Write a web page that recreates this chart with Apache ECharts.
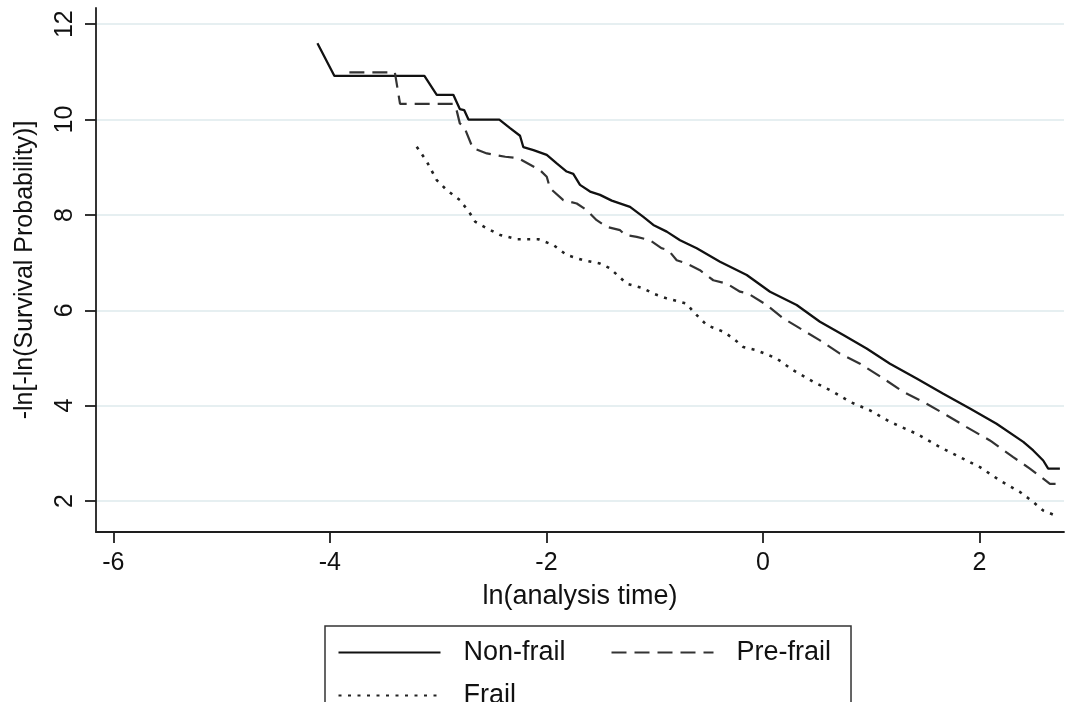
<!DOCTYPE html>
<html>
<head>
<meta charset="utf-8">
<script src="https://cdn.jsdelivr.net/npm/echarts@6/dist/echarts.min.js"></script>
<style>
html,body{margin:0;padding:0;background:#fff;}
#chart{width:1067px;height:702px;}
</style>
</head>
<body>
<div id="chart"></div>
<script>
// ---- data ----
const xTicks = [-6, -4, -2, 0, 2];
const yTicks = [2, 4, 6, 8, 10, 12];
const seriesNames = ['Non-frail', 'Pre-frail', 'Frail'];

const nonFrailX = [-4.115, -3.958, -3.127, -3.013, -2.86, -2.80, -2.76, -2.72, -2.435, -2.336, -2.244, -2.213, -2.12, -1.997, -1.905, -1.813, -1.752, -1.69, -1.597, -1.505, -1.397, -1.228, -1.105, -1.013, -0.889, -0.766, -0.612, -0.397, -0.15, 0.065, 0.311, 0.526, 0.742, 0.957, 1.173, 1.419, 1.665, 1.911, 2.157, 2.404, 2.496, 2.588, 2.634, 2.742];
const nonFrailY = [11.60, 10.915, 10.915, 10.52, 10.52, 10.22, 10.20, 10.0, 10.0, 9.82, 9.66, 9.42, 9.36, 9.26, 9.08, 8.91, 8.86, 8.63, 8.49, 8.42, 8.30, 8.17, 7.96, 7.79, 7.65, 7.47, 7.30, 7.02, 6.74, 6.39, 6.11, 5.76, 5.48, 5.20, 4.88, 4.57, 4.25, 3.94, 3.62, 3.24, 3.06, 2.85, 2.68, 2.68];

const preFrailX = [-3.82, -3.40, -3.352, -2.86, -2.83, -2.80, -2.76, -2.68, -2.55, -2.38, -2.26, -2.06, -1.997, -1.967, -1.844, -1.72, -1.628, -1.536, -1.443, -1.32, -1.274, -1.166, -1.043, -0.935, -0.874, -0.797, -0.705, -0.582, -0.459, -0.335, -0.212, -0.136, 0.034, 0.188, 0.342, 0.526, 0.711, 0.896, 1.111, 1.296, 1.511, 1.696, 1.881, 2.096, 2.311, 2.465, 2.588, 2.65, 2.71];
const preFrailY = [10.99, 10.99, 10.33, 10.33, 10.20, 9.92, 9.85, 9.40, 9.29, 9.22, 9.19, 8.94, 8.80, 8.56, 8.31, 8.24, 8.10, 7.89, 7.75, 7.68, 7.58, 7.54, 7.47, 7.30, 7.26, 7.05, 6.98, 6.84, 6.63, 6.56, 6.39, 6.35, 6.11, 5.83, 5.62, 5.37, 5.09, 4.88, 4.57, 4.29, 4.04, 3.80, 3.55, 3.27, 2.92, 2.68, 2.47, 2.36, 2.36];

const frailX = [-3.198, -3.105, -3.013, -2.92, -2.798, -2.705, -2.659, -2.55, -2.428, -2.274, -2.074, -1.936, -1.813, -1.659, -1.505, -1.413, -1.259, -1.105, -1.013, -0.889, -0.705, -0.643, -0.52, -0.366, -0.274, -0.182, -0.058, 0.126, 0.28, 0.465, 0.649, 0.803, 0.988, 1.173, 1.419, 1.634, 1.819, 2.004, 2.188, 2.373, 2.496, 2.588, 2.696];
const frailY = [9.43, 9.12, 8.73, 8.52, 8.31, 8.03, 7.86, 7.72, 7.58, 7.49, 7.49, 7.37, 7.16, 7.05, 6.98, 6.88, 6.56, 6.46, 6.35, 6.25, 6.14, 5.97, 5.69, 5.55, 5.41, 5.23, 5.16, 4.99, 4.74, 4.50, 4.29, 4.08, 3.90, 3.66, 3.41, 3.13, 2.92, 2.71, 2.43, 2.19, 1.98, 1.80, 1.70];

const zip = (xs, ys) => xs.map((x, i) => [x, ys[i]]);

const FONT = '"Liberation Sans", Arial, Helvetica, sans-serif';
const axisColor = '#1e1e1e';

const chart = echarts.init(document.getElementById('chart'), null, {renderer: 'canvas'});

const option = {
  backgroundColor: '#ffffff',
  animation: false,
  textStyle: {fontFamily: FONT},
  grid: {left: 96, right: 3, top: 8, bottom: 170},
  xAxis: {
    type: 'value',
    min: -6.16, max: 2.78,
    name: 'ln(analysis time)',
    nameLocation: 'middle',
    nameGap: 51,
    nameTextStyle: {fontSize: 27, color: '#111', fontFamily: FONT},
    axisLine: {show: true, onZero: false, lineStyle: {color: axisColor, width: 1.8}},
    axisTick: {show: true, length: 11, inside: false, customValues: xTicks, lineStyle: {color: axisColor, width: 1.8}},
    axisLabel: {customValues: xTicks, fontSize: 25, color: '#111', margin: 19, fontFamily: FONT},
    splitLine: {show: false}
  },
  yAxis: {
    type: 'value',
    min: 1.35, max: 12.34,
    name: '-ln[-ln(Survival Probability)]',
    nameLocation: 'middle',
    nameRotate: 90,
    nameGap: 58,
    nameTextStyle: {fontSize: 25, color: '#111', fontFamily: FONT},
    axisLine: {show: true, onZero: false, lineStyle: {color: axisColor, width: 1.8}},
    axisTick: {show: true, length: 11, inside: false, customValues: yTicks, lineStyle: {color: axisColor, width: 1.8}},
    axisLabel: {customValues: yTicks, rotate: 90, fontSize: 25, color: '#111', margin: 18, fontFamily: FONT},
    splitLine: {show: true, lineStyle: {color: '#e6eff1', width: 2}}
  },
  legend: {
    left: 325, top: 626,
    width: 495,
    orient: 'horizontal',
    padding: [10, 20, 40, 12.5],
    itemGap: 10,
    itemWidth: 102,
    itemHeight: 14,
    borderColor: '#333',
    borderWidth: 1.5,
    borderRadius: 0,
    selectedMode: false,
    itemStyle: {opacity: 0, color: 'rgba(0,0,0,0)', borderWidth: 0},
    data: seriesNames,
    formatter: function (name) {
      return '{' + (name === 'Non-frail' ? 'a' : 'b') + '|' + name + '}';
    },
    textStyle: {
      fontSize: 27, color: '#111', fontFamily: FONT, lineHeight: 33,
      rich: {
        a: {fontSize: 27, fontFamily: FONT, color: '#111', width: 137, padding: [0, 0, 0, 18], lineHeight: 33},
        b: {fontSize: 27, fontFamily: FONT, color: '#111', width: 94, padding: [0, 0, 0, 18], lineHeight: 33}
      }
    }
  },
  series: [
    {
      name: 'Non-frail', type: 'line', data: zip(nonFrailX, nonFrailY),
      showSymbol: false, symbol: 'none', smooth: false,
      lineStyle: {color: '#111', width: 2.3, type: 'solid'},
      itemStyle: {color: '#111'}
    },
    {
      name: 'Pre-frail', type: 'line', data: zip(preFrailX, preFrailY),
      showSymbol: false, symbol: 'none', smooth: false,
      lineStyle: {color: '#333', width: 2.2, type: [15, 8]},
      itemStyle: {color: '#333'}
    },
    {
      name: 'Frail', type: 'line', data: zip(frailX, frailY),
      showSymbol: false, symbol: 'none', smooth: false,
      lineStyle: {color: '#222', width: 2.6, type: [3, 6.5]},
      itemStyle: {color: '#222'}
    }
  ]
};
chart.setOption(option);
</script>
</body>
</html>
